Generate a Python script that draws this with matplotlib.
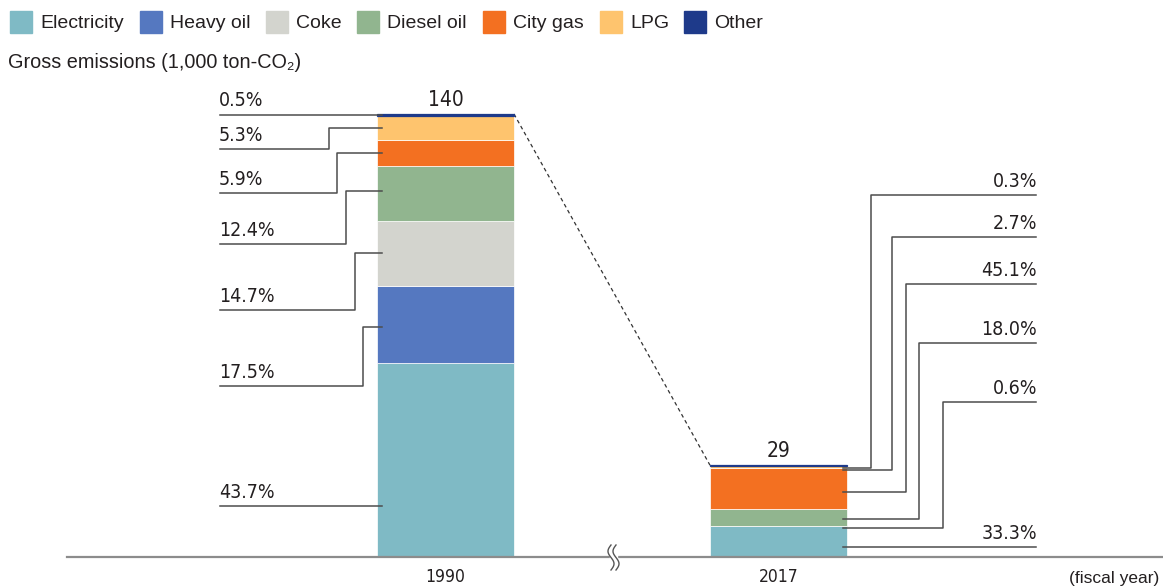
import numpy as np
import matplotlib
matplotlib.use('Agg')
import matplotlib.pyplot as plt
from matplotlib.patches import Rectangle

# data
years = ['1990', '2017']
totals = [140, 29]
sources = ['Electricity', 'Heavy oil', 'Coke', 'Diesel oil', 'City gas', 'LPG', 'Other']
colors = ['#7fbac5', '#5578c0', '#d3d4ce', '#91b58f', '#f37021', '#fec46e', '#1e3a8a']
electricity = [43.7, 33.3]
heavy_oil = [17.5, 0.6]
coke = [14.7, 0.0]
diesel_oil = [12.4, 18.0]
city_gas = [5.9, 45.1]
lpg = [5.3, 2.7]
other = [0.5, 0.3]
shares = [electricity, heavy_oil, coke, diesel_oil, city_gas, lpg, other]

W, H = 1163, 587
fig = plt.figure(figsize=(W / 100, H / 100), dpi=100)
ax = fig.add_axes([0, 0, 1, 1])
ax.axis('off')

# map: bar centres at 445.5 / 778.5 px, baseline at 557 px, 443 px for 140
x0, dx = 445.5, 333.0
base, ppu = 557.0, 443.0 / 140
ax.set_xlim(-x0 / dx, (W - x0) / dx)
ax.set_ylim(-(H - base) / ppu, base / ppu)

def X(px):
    return (px - x0) / dx

def Y(py):
    return (base - py) / ppu

cond = dict(family='DejaVu Sans', stretch='condensed', color='#231f20')
sans = dict(family=['Liberation Sans', 'DejaVu Sans'], color='#231f20')

# stacked bars
pos = np.arange(len(years))
bottom = np.zeros(len(years))
for name, sh, c in zip(sources, shares, colors):
    vals = np.array(totals) * np.array(sh) / 100
    keep = vals > 0
    # the very thin top band keeps its own colour as edge so it stays visible
    ec = c if name == 'Other' else 'white'
    lw = 0.9 if name == 'Other' else 0.5
    ax.bar(pos[keep], vals[keep], bottom=bottom[keep], width=137 / dx, color=c,
           edgecolor=ec, linewidth=lw, zorder=3)
    bottom += vals

# totals above bars
for p, t in zip(pos, totals):
    ax.text(p, t + 4 / ppu, str(t), ha='center', va='bottom', fontsize=15, **cond)

# dashed connector between bar tops
ax.plot([X(514), X(710)], [totals[0], totals[1]], color='#333333', lw=0.9,
        ls=(0, (3, 2.5)), zorder=2)

# baseline with break mark
ax.plot([X(67), X(W)], [0, 0], color='#8c8c8c', lw=1.6, zorder=4)
ax.add_patch(Rectangle((X(609.5), Y(560)), X(617) - X(609.5), Y(554) - Y(560),
                       color='white', zorder=5))
s = np.linspace(0, 1, 50)
for off in (0, 5):
    ax.plot(X(611 + off - 3 * np.sin(2 * np.pi * s)), Y(545 + 25 * s),
            color='#555555', lw=1.0, zorder=6)

# year labels
for p, y in zip(pos, years):
    ax.text(p, Y(586), y, ha='center', va='bottom', fontsize=12.5, **cond)
ax.text(X(1159), Y(586), '(fiscal year)', ha='right', va='bottom', fontsize=12.5, **sans)

lc = '#4d4d4d'
# left leaders for 1990: (label, line y, elbow x, attach y)
left = [('0.5%', 114.5, None, 114.5), ('5.3%', 149, 328.5, 127.5),
        ('5.9%', 193.3, 336.7, 152.7), ('12.4%', 244, 345.7, 190.7),
        ('14.7%', 310, 355, 253.3), ('17.5%', 385.7, 363.3, 327),
        ('43.7%', 506, None, 506)]
for lab, ly, ex, ay in left:
    if ex is None:
        ax.plot([X(220), X(382)], [Y(ly), Y(ly)], color=lc, lw=1.1, zorder=4)
    else:
        ax.plot([X(220), X(ex), X(ex), X(382)], [Y(ly), Y(ly), Y(ay), Y(ay)],
                color=lc, lw=1.1, zorder=4)
    ax.text(X(219), Y(ly - 4), lab, ha='left', va='bottom', fontsize=14, **cond)

# right leaders for 2017
right = [('0.3%', 195, 871, 467.5), ('2.7%', 237.3, 892, 470),
         ('45.1%', 284, 906, 492), ('18.0%', 343.3, 919, 519),
         ('0.6%', 402.3, 943, 527.7), ('33.3%', 546.7, None, 546.7)]
for lab, ly, ex, ay in right:
    if ex is None:
        ax.plot([X(843), X(1036)], [Y(ly), Y(ly)], color=lc, lw=1.1, zorder=4)
    else:
        ax.plot([X(1036), X(ex), X(ex), X(843)], [Y(ly), Y(ly), Y(ay), Y(ay)],
                color=lc, lw=1.1, zorder=4)
    ax.text(X(1037), Y(ly - 4), lab, ha='right', va='bottom', fontsize=14, **cond)

# legend
leg_x = [10, 140, 266, 357, 483, 600, 684]
for lx, name, c in zip(leg_x, sources, colors):
    ax.add_patch(Rectangle((X(lx), Y(33)), X(lx + 22) - X(lx), Y(11) - Y(33),
                           color=c, zorder=5, clip_on=False))
    ax.text(X(lx + 30), Y(23), name, ha='left', va='center', fontsize=14, **sans)

ax.text(X(8), Y(62), 'Gross emissions (1,000 ton-CO\u2082)', ha='left', va='center',
        fontsize=14.3, **sans)

fig.savefig('out.png', dpi=100)
